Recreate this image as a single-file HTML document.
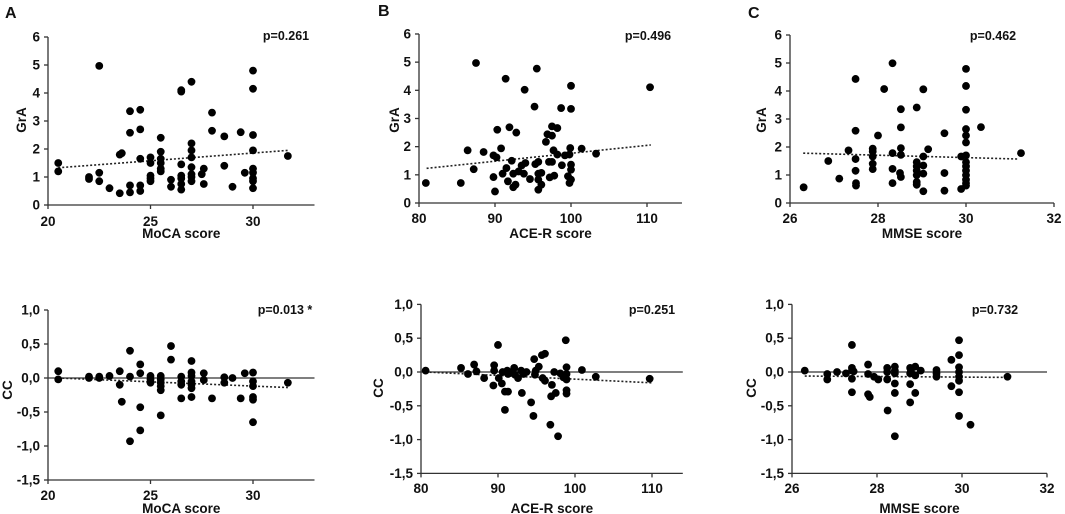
<!DOCTYPE html>
<html><head><meta charset="utf-8">
<style>
html,body{margin:0;padding:0;background:#fff;}
svg{display:block;font-family:"Liberation Sans",Arial,sans-serif;font-weight:bold;}
</style></head>
<body>
<svg id="chart" width="1065" height="514" viewBox="0 0 1065 514"></svg>
<script>
// ---- Panel A (MoCA) ----
const aTopX=[20.5,20.5,22,22,22.5,22.5,22.5,23,23.5,23.6,23.5,24,24,24,24,24.5,24.5,24.5,24.5,24.5,25,25,25,25,25,25.5,25.5,25.5,25.5,25.5,25.5,26,26,26.5,26.5,26.5,26.5,26.5,26.5,26.5,27,27,27,27,27,27,27,27,27.5,27.6,27.6,28,28,28.6,28.6,29,29.4,29.6,30,30,30,30,30,30,30,30,30,31.7];
const aTopY=[1.5,1.2,1.0,0.93,4.97,1.15,0.85,0.6,1.8,1.85,0.42,3.35,2.58,0.7,0.45,3.4,2.7,1.65,0.7,0.5,1.7,1.5,1.05,0.95,0.85,2.4,1.9,1.65,1.5,1.3,1.2,0.9,0.65,4.1,4.05,1.45,1.05,0.95,0.75,0.55,4.4,2.2,1.95,1.7,1.35,1.1,1.0,0.85,1.1,1.3,0.75,3.3,2.65,2.45,1.4,0.65,2.6,1.15,4.8,4.15,2.5,1.95,1.3,1.15,0.95,0.85,0.6,1.75];
const aTopTrendX=[20.5,31.7], aTopTrendY=[1.33,1.95];
const aBotX=[20.5,20.5,22,22,22.5,22.5,23,23.5,23.5,23.6,24,24,24,24.5,24.5,24.5,24.5,25,25,25,25.5,25.5,25.5,25.5,25.5,25.5,26,26,26.5,26.5,26.5,26.5,27,27,27,27,27,27,27,27.6,27.6,28,28.6,28.6,29,29.4,29.6,30,30,30,30,30,30,31.7];
const aBotY=[0.1,-0.02,0.0,0.02,0.02,0.0,0.03,0.1,-0.1,-0.35,0.4,0.02,-0.93,0.2,0.07,-0.43,-0.77,0.03,-0.02,-0.07,0.03,-0.02,-0.07,-0.12,-0.18,-0.55,0.47,0.27,0.02,-0.05,-0.1,-0.3,0.25,0.08,0.03,-0.05,-0.1,-0.15,-0.28,0.07,-0.03,-0.3,0.01,-0.07,0.0,-0.3,0.07,0.08,-0.05,-0.12,-0.28,-0.32,-0.65,-0.07];
const aBotTrendX=[20.5,31.7], aBotTrendY=[0.0,-0.14];
// ---- Panel B (ACE-R) ----
const bTopX=[80.9,85.5,86.4,87.2,87.5,88.5,89.8,89.8,90,90.2,90.3,90.8,91,91.4,91.5,91.7,91.9,92.2,92.4,92.4,92.7,92.8,93.1,93.5,93.8,93.9,94.0,94.6,95.2,95.3,95.5,95.7,95.7,95.7,95.7,96.1,96.1,96.7,96.9,97.1,97.2,97.5,97.5,97.5,97.7,97.8,98.2,98.2,98.7,98.8,99.2,99.6,99.8,99.8,99.9,100,100,100,100,100,101.4,103.3,110.4];
const bTopY=[0.71,0.71,1.87,1.2,4.97,1.81,1.69,0.92,0.41,1.62,2.6,1.94,1.04,4.41,1.24,0.77,2.69,1.5,1.04,0.56,0.65,2.5,1.12,1.33,1.04,4.02,1.42,0.85,3.42,1.38,4.77,1.46,1.04,0.83,0.47,1.07,0.65,2.17,2.44,1.46,0.91,1.46,2.72,2.39,1.87,0.97,2.66,1.72,3.37,1.34,1.69,0.95,0.71,1.72,1.95,4.16,3.34,1.36,1.18,0.83,1.93,1.75,4.11];
const bTopTrendX=[81,110.5], bTopTrendY=[1.23,2.06];
const bBotX=[80.6,85.2,86.1,86.9,87.2,88.2,89.4,89.5,89.5,90.0,90.1,90.5,90.6,90.9,90.9,91.2,91.3,91.3,91.8,92.1,92.2,92.6,93.0,93.1,93.3,93.7,94.3,94.6,94.7,94.8,94.9,95.3,95.7,96.1,95.8,96.1,96.8,96.9,97.0,97.3,97.5,97.8,98.1,98.5,98.8,98.9,98.9,98.9,98.9,98.9,100.9,102.7,109.7];
const bBotY=[0.02,0.06,-0.03,0.11,0.01,-0.09,-0.2,0.1,0.02,0.4,-0.09,-0.17,0.0,-0.29,-0.56,0.02,-0.29,-0.03,-0.01,0.06,-0.04,-0.09,0.02,-0.31,-0.03,0.0,-0.45,-0.65,0.19,-0.04,0.02,0.08,0.25,0.27,-0.09,-0.13,-0.78,-0.36,-0.19,0.0,-0.31,-0.95,-0.02,-0.08,0.47,0.07,-0.03,-0.11,-0.27,-0.32,0.03,-0.07,-0.1];
const bBotTrendX=[80.6,110], bBotTrendY=[0.0,-0.16];
// ---- Panel C (MMSE) ----
const cTopX=[26.31,26.87,27.12,27.33,27.49,27.49,27.49,27.49,27.5,27.5,28.0,27.88,27.88,27.88,27.88,27.88,28.14,28.33,28.33,28.33,28.33,28.52,28.52,28.52,28.52,28.5,28.52,28.88,28.88,28.88,28.88,28.88,28.88,28.88,29.03,29.03,29.03,29.03,29.03,29.14,29.51,29.51,29.51,29.89,29.89,30,30,30,30,30,30,30,30,30,30,30,30,30,30,30.34,31.25];
const cTopY=[0.56,1.5,0.87,1.88,4.43,2.58,1.57,1.15,0.71,0.62,2.41,1.94,1.84,1.66,1.4,1.21,4.07,4.99,1.78,1.22,0.71,3.35,2.7,1.96,1.72,1.07,0.93,3.41,1.46,1.31,1.15,0.99,0.75,0.65,4.06,1.66,1.34,1.05,0.42,1.92,2.49,1.07,0.44,1.66,0.5,4.79,4.18,3.33,2.64,2.41,2.16,1.7,1.46,1.31,1.15,0.99,0.83,0.71,0.62,2.71,1.78];
const cTopTrendX=[26.3,31.2], cTopTrendY=[1.78,1.57];
const cBotX=[26.3,26.83,26.83,27.06,27.27,27.41,27.41,27.41,27.41,27.41,27.45,27.79,27.79,27.79,27.83,27.93,28.03,28.24,28.24,28.24,28.25,28.42,28.42,28.42,28.42,28.42,28.42,28.78,28.78,28.78,28.78,28.8,28.9,28.9,28.9,29.03,29.4,29.4,29.4,29.75,29.75,29.93,29.93,29.93,29.93,29.93,29.93,29.93,29.93,30.2,31.07];
const cBotY=[0.02,-0.03,-0.11,0.0,-0.02,0.4,0.06,0.02,-0.1,-0.3,0.01,0.11,-0.03,-0.33,-0.37,-0.07,-0.11,0.06,0.0,-0.11,-0.57,0.08,0.02,-0.02,-0.17,-0.31,-0.95,0.06,-0.02,-0.18,-0.45,0.01,0.08,-0.05,-0.31,0.02,0.03,-0.02,-0.07,0.18,-0.21,0.47,0.25,0.07,0.0,-0.07,-0.13,-0.3,-0.65,-0.78,-0.07];
const cBotTrendX=[26.3,31.1], cBotTrendY=[-0.06,-0.08];
// tick labels
const topYTicks=[0,1,2,3,4,5,6];
const botYTicks=[1.0,0.5,0.0,-0.5,-1.0,-1.5];
const aXTicks=[20,25,30], bXTicks=[80,90,100,110], cXTicks=[26,28,30,32];

const svg=document.getElementById('chart');
const NS='http://www.w3.org/2000/svg';
function mk(tag,attrs,parent){const e=document.createElementNS(NS,tag);for(const k in attrs)e.setAttribute(k,attrs[k]);(parent||svg).appendChild(e);return e;}
function fmt(v,comma){return comma?v.toFixed(1).replace('.',','):String(v);}

function panel(cfg){
  const g=mk('g',{});
  
  
  const sx=v=>cfg.x0+(v-cfg.xmin)*cfg.kx;
  const sy=v=>cfg.yZero-v*cfg.ky;
  const yTop=sy(Math.max(...cfg.yTicks));
  const yBot=sy(Math.min(...cfg.yTicks));
  const xEnd=sx(cfg.xmax);
  const ya=mk('line',{x1:cfg.x0,y1:yTop,x2:cfg.x0,y2:yBot,stroke:'#333','stroke-width':1.3},g);
  
  
  cfg.yTicks.forEach(t=>{
    const y=sy(t);
    const tk=mk('line',{x1:cfg.x0-4,y1:y,x2:cfg.x0,y2:y,stroke:'#333','stroke-width':1.3},g);
    
    
    const tl=mk('text',{x:cfg.x0-8,y:y+4.5,'text-anchor':'end','font-size':13.5,fill:'#111'},g);
    tl.textContent=fmt(t,cfg.comma);
    
    
  });
  const xaY=cfg.comma?yBot:sy(0);
  const xa=mk('line',{x1:cfg.x0,y1:xaY,x2:xEnd,y2:xaY,stroke:'#333','stroke-width':1.3},g);
  
  
  if(cfg.comma){
    const zl=mk('line',{x1:cfg.x0,y1:sy(0),x2:xEnd,y2:sy(0),stroke:'#333','stroke-width':1.3},g);
    
    
  }
  cfg.xTicks.forEach(t=>{
    const x=sx(t);
    const tk=mk('line',{x1:x,y1:xaY,x2:x,y2:xaY+4,stroke:'#333','stroke-width':1.3},g);
    
    
    const tl=mk('text',{x:x,y:cfg.xLabY,'text-anchor':'middle','font-size':13.5,fill:'#111'},g);
    tl.textContent=String(t);
    
    
  });
  const xt=mk('text',{x:(cfg.x0+xEnd)/2,y:cfg.xTitleY,'text-anchor':'middle','font-size':13.5,fill:'#111'},g);
  xt.textContent=cfg.xTitle;
  
  
  const yt=mk('text',{x:0,y:0,'text-anchor':'middle','font-size':13.5,fill:'#111',transform:`translate(${cfg.yTitleX},${cfg.yTitleY}) rotate(-90)`},g);
  yt.textContent=cfg.yTitle;
  
  
  const pv=mk('text',{x:cfg.pX,y:cfg.pY,'text-anchor':'middle','font-size':12.5,fill:'#111'},g);
  pv.textContent=cfg.p;
  
  
  const tr=mk('line',{x1:sx(cfg.tx[0]),y1:sy(cfg.ty[0]),x2:sx(cfg.tx[1]),y2:sy(cfg.ty[1]),stroke:'#222','stroke-width':1.6,'stroke-dasharray':'2,2'},g);
  
  
  cfg.xs.forEach((v,i)=>{
    const c=mk('circle',{cx:sx(v),cy:sy(cfg.ys[i]),r:3.9,fill:'#000'},g);
    
    
  });
}

panel({name:'panel-a-gra',x0:48,xmin:20,xmax:33,kx:20.5,yZero:205,ky:28,yTicks:topYTicks,xTicks:aXTicks,comma:false,xLabY:226,xTitleY:238,xTitle:'MoCA score',yTitle:'GrA',yTitleX:26,yTitleY:120,p:'p=0.261',pX:286,pY:40,tx:aTopTrendX,ty:aTopTrendY,xs:aTopX,ys:aTopY});
panel({name:'panel-a-cc',x0:48,xmin:20,xmax:33,kx:20.5,yZero:378,ky:68,yTicks:botYTicks,xTicks:aXTicks,comma:true,xLabY:500,xTitleY:513,xTitle:'MoCA score',yTitle:'CC',yTitleX:12,yTitleY:390,p:'p=0.013 *',pX:285,pY:314,tx:aBotTrendX,ty:aBotTrendY,xs:aBotX,ys:aBotY});
panel({name:'panel-b-gra',x0:419,xmin:80,xmax:114.6,kx:7.6,yZero:203,ky:28.17,yTicks:topYTicks,xTicks:bXTicks,comma:false,xLabY:223,xTitleY:238,xTitle:'ACE-R score',yTitle:'GrA',yTitleX:399,yTitleY:120,p:'p=0.496',pX:648,pY:40,tx:bTopTrendX,ty:bTopTrendY,xs:bTopX,ys:bTopY});
panel({name:'panel-b-cc',x0:421,xmin:80,xmax:114,kx:7.7,yZero:372,ky:67.6,yTicks:botYTicks,xTicks:bXTicks,comma:true,xLabY:493,xTitleY:513,xTitle:'ACE-R score',yTitle:'CC',yTitleX:383,yTitleY:388,p:'p=0.251',pX:652,pY:314,tx:bBotTrendX,ty:bBotTrendY,xs:bBotX,ys:bBotY});
panel({name:'panel-c-gra',x0:790,xmin:26,xmax:32,kx:44,yZero:203,ky:28,yTicks:topYTicks,xTicks:cXTicks,comma:false,xLabY:223,xTitleY:238,xTitle:'MMSE score',yTitle:'GrA',yTitleX:766,yTitleY:120,p:'p=0.462',pX:993,pY:40,tx:cTopTrendX,ty:cTopTrendY,xs:cTopX,ys:cTopY});
panel({name:'panel-c-cc',x0:792,xmin:26,xmax:32,kx:42.5,yZero:372,ky:67.6,yTicks:botYTicks,xTicks:cXTicks,comma:true,xLabY:493,xTitleY:513,xTitle:'MMSE score',yTitle:'CC',yTitleX:756,yTitleY:388,p:'p=0.732',pX:995,pY:314,tx:cBotTrendX,ty:cBotTrendY,xs:cBotX,ys:cBotY});

[['A',5,18],['B',378,16],['C',748,18]].forEach(([t,x,y])=>{
  const l=mk('text',{x:x,y:y,'font-size':16,fill:'#111'});
  l.textContent=t;
  
  
});
</script>
</body></html>
